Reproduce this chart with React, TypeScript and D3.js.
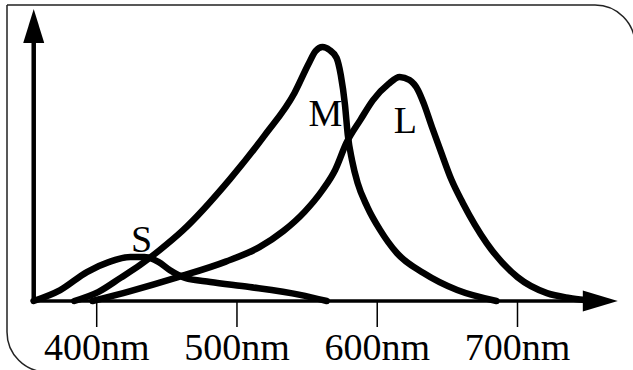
import { useEffect, useRef } from "react";
import * as d3 from "d3";

// wavelength (nm) / relative sensitivity
const sWave = [355, 374, 393, 409, 424, 434, 444, 452, 463, 481, 509, 545, 564];
const sValue = [0, 0.043, 0.114, 0.154, 0.173, 0.173, 0.154, 0.122, 0.091, 0.075, 0.055, 0.024, 0];

const mWave = [384, 401, 417, 431, 445, 461, 495, 520, 541, 551, 556, 561, 566, 571, 574, 577, 579, 582, 586, 593, 602, 614, 633, 657, 685];
const mValue = [0, 0.035, 0.091, 0.142, 0.201, 0.276, 0.48, 0.654, 0.819, 0.933, 0.984, 1.0, 0.988, 0.957, 0.89, 0.772, 0.654, 0.555, 0.465, 0.37, 0.28, 0.189, 0.11, 0.043, 0];

const lWave = [397, 424, 458, 492, 516, 533, 548, 561, 570, 578, 588, 597, 608, 616, 623, 629, 633, 639, 645, 653, 661, 678, 700, 721, 737, 748];
const lValue = [0, 0.039, 0.094, 0.155, 0.212, 0.275, 0.35, 0.437, 0.516, 0.622, 0.713, 0.791, 0.854, 0.882, 0.87, 0.831, 0.78, 0.685, 0.594, 0.476, 0.386, 0.228, 0.094, 0.031, 0.012, 0.004];

const ticks = [400, 500, 600, 700];
const curveLabels = ["S", "M", "L"];

const W = 633;
const H = 370;

export default function App() {
  const svgRef = useRef<SVGSVGElement>(null);

  useEffect(() => {
    if (!svgRef.current) return;
    const svg = d3.select(svgRef.current);
    svg.selectAll("*").remove();

    const x = d3.scaleLinear().domain([400, 700]).range([96.7, 517.5]);
    const y = d3.scaleLinear().domain([0, 1]).range([301, 47]);

    const font = "Liberation Serif, Times New Roman, DejaVu Serif, serif";

    // frame: square top-left, rounded top-right and bottom-left
    svg
      .append("path")
      .attr("d", "M7,5 H595 A40,40 0 0 1 635,45 V380 M7,5 V332 A40,40 0 0 0 47,372 H640")
      .attr("fill", "none")
      .attr("stroke", "#222")
      .attr("stroke-width", 1.5);

    const x0 = x(355.1);
    const xTip = x(771.5);
    const yTop = y(1.15);
    const y0 = y(0);

    // axes
    svg.append("line")
      .attr("x1", x0).attr("x2", xTip - 30)
      .attr("y1", y0).attr("y2", y0)
      .attr("stroke", "#000").attr("stroke-width", 3.5);
    svg.append("line")
      .attr("x1", x0).attr("x2", x0)
      .attr("y1", y0 + 2).attr("y2", yTop + 30)
      .attr("stroke", "#000").attr("stroke-width", 4.5);

    svg.append("path")
      .attr("d", `M${xTip},${y0} L${xTip - 35},${y0 - 10.5} L${xTip - 35},${y0 + 10.5} Z`)
      .attr("fill", "#000");
    svg.append("path")
      .attr("d", `M${x0},${yTop} L${x0 - 10.5},${yTop + 34} L${x0 + 10.5},${yTop + 34} Z`)
      .attr("fill", "#000");

    // ticks + labels
    const tg = svg.append("g");
    tg.selectAll("line")
      .data(ticks)
      .enter()
      .append("line")
      .attr("x1", d => x(d)).attr("x2", d => x(d))
      .attr("y1", y0).attr("y2", 327)
      .attr("stroke", "#000").attr("stroke-width", 1.5);
    tg.selectAll("text")
      .data(ticks)
      .enter()
      .append("text")
      .attr("x", d => x(d))
      .attr("y", 360)
      .attr("text-anchor", "middle")
      .style("font-family", font)
      .style("font-size", "38px")
      .attr("fill", "#000")
      .text(d => `${d}nm`);

    // cone curves
    const line = d3
      .line<[number, number]>()
      .x(d => x(d[0]))
      .y(d => y(d[1]))
      .curve(d3.curveMonotoneX);

    const series = [
      d3.zip(sWave, sValue) as [number, number][],
      d3.zip(mWave, mValue) as [number, number][],
      d3.zip(lWave, lValue) as [number, number][],
    ];

    svg.selectAll(".cone")
      .data(series)
      .enter()
      .append("path")
      .attr("class", "cone")
      .attr("d", d => line(d) || "")
      .attr("fill", "none")
      .attr("stroke", "#000")
      .attr("stroke-width", 6.5)
      .attr("stroke-linecap", "round")
      .attr("stroke-linejoin", "round");

    // S / M / L labels
    const labelPos: [number, number][] = [
      [432, 0.193],
      [563, 0.689],
      [620, 0.661],
    ];
    svg.selectAll(".lbl")
      .data(curveLabels)
      .enter()
      .append("text")
      .attr("class", "lbl")
      .attr("x", (d, i) => x(labelPos[i][0]))
      .attr("y", (d, i) => y(labelPos[i][1]))
      .attr("text-anchor", "middle")
      .style("font-family", font)
      .style("font-size", "38px")
      .attr("fill", "#000")
      .text(d => d);
  }, []);

  return (
    <svg
      ref={svgRef}
      width={W}
      height={H}
      style={{ position: "absolute", left: 0, top: 0, background: "#fff" }}
    />
  );
}
